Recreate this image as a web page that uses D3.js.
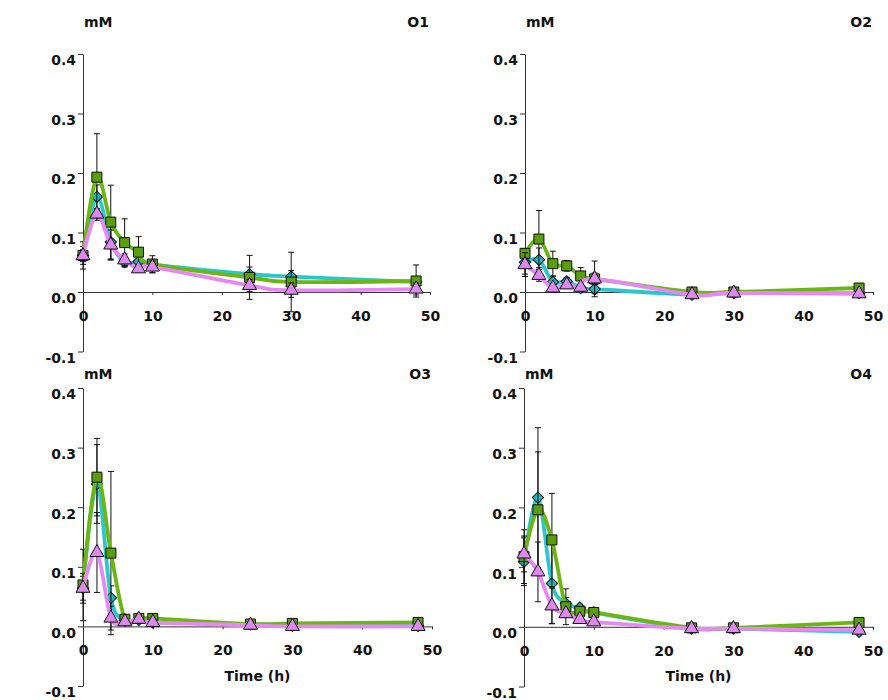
<!DOCTYPE html>
<html>
<head>
<meta charset="utf-8">
<script src="https://cdn.jsdelivr.net/npm/d3@7"></script>
<style>
  body { margin: 0; background: #fff; }
  svg text { font-family: "DejaVu Sans", sans-serif; font-weight: bold; font-size: 14px; fill: #111; }
</style>
</head>
<body>
<svg id="chart" width="888" height="700"></svg>
<script>
// time points (h)
var times = [0, 2, 4, 6, 8, 10, 24, 30, 48];
var xTicks = [0, 10, 20, 30, 40, 50];
var yTicks = [-0.1, 0.0, 0.1, 0.2, 0.3, 0.4];
var panelNames = ["O1", "O2", "O3", "O4"];

// O1
var o1Cyan   = [0.0615, 0.160, 0.084, 0.050, 0.051, 0.046, 0.030, 0.026, 0.017];
var o1CyanErr = [0.015, 0.020, 0.030, 0.008, 0.010, 0.008, 0.012, 0.010, 0.004];
var o1Green  = [0.0615, 0.193, 0.1175, 0.083, 0.067, 0.047, 0.0246, 0.0168, 0.0185];
var o1GreenErr = [0.023, 0.073, 0.062, 0.040, 0.026, 0.014, 0.037, 0.050, 0.027];
var o1Violet = [0.061, 0.131, 0.079, 0.054, 0.039, 0.042, 0.011, 0.003, 0.005];
var o1VioletErr = [0.010, 0.008, 0.025, 0.010, 0.005, 0.010, 0.010, 0.012, 0.010];

// O2
var o2Cyan   = [0.050, 0.054, 0.017, 0.018, 0.0067, 0.005, -0.0045, -0.002, -0.002];
var o2CyanErr = [0.020, 0.020, 0.010, 0.006, 0.004, 0.008, 0.002, 0.002, 0.002];
var o2Green  = [0.065, 0.089, 0.0476, 0.044, 0.027, 0.022, 0.0, 0.0, 0.0067];
var o2GreenErr = [0.008, 0.048, 0.021, 0.009, 0.014, 0.010, 0.002, 0.003, 0.003];
var o2Violet = [0.046, 0.028, 0.0067, 0.012, 0.008, 0.022, -0.0045, -0.0017, -0.003];
var o2VioletErr = [0.020, 0.010, 0.005, 0.005, 0.003, 0.030, 0.002, 0.002, 0.002];

// O3
var o3Cyan   = [0.064, 0.239, 0.048, 0.0095, 0.011, 0.0067, 0.004, 0.001, 0.001];
var o3CyanErr = [0.020, 0.066, 0.020, 0.003, 0.004, 0.002, 0.002, 0.001, 0.001];
var o3Green  = [0.0695, 0.2504, 0.123, 0.012, 0.0134, 0.0134, 0.004, 0.005, 0.0067];
var o3GreenErr = [0.060, 0.065, 0.137, 0.004, 0.004, 0.003, 0.002, 0.002, 0.002];
var o3Violet = [0.064, 0.124, 0.014, 0.0078, 0.012, 0.0067, 0.002, 0.0, 0.0];
var o3VioletErr = [0.025, 0.067, 0.020, 0.003, 0.003, 0.002, 0.001, 0.001, 0.001];

// O4
var o4Cyan   = [0.109, 0.2165, 0.0727, 0.039, 0.032, 0.024, -0.003, -0.003, -0.0084];
var o4CyanErr = [0.040, 0.117, 0.067, 0.010, 0.006, 0.005, 0.002, 0.002, 0.002];
var o4Green  = [0.1175, 0.196, 0.1455, 0.0336, 0.026, 0.024, -0.0017, -0.0017, 0.0073];
var o4GreenErr = [0.045, 0.097, 0.078, 0.030, 0.008, 0.006, 0.002, 0.002, 0.003];
var o4Violet = [0.122, 0.092, 0.035, 0.022, 0.0123, 0.0084, -0.003, -0.003, -0.0056];
var o4VioletErr = [0.030, 0.050, 0.030, 0.006, 0.004, 0.003, 0.002, 0.002, 0.002];

var panelData = [
  [[o1Cyan, o1CyanErr], [o1Green, o1GreenErr], [o1Violet, o1VioletErr]],
  [[o2Cyan, o2CyanErr], [o2Green, o2GreenErr], [o2Violet, o2VioletErr]],
  [[o3Cyan, o3CyanErr], [o3Green, o3GreenErr], [o3Violet, o3VioletErr]],
  [[o4Cyan, o4CyanErr], [o4Green, o4GreenErr], [o4Violet, o4VioletErr]]
];

// series styles: cyan diamond (rotated square), green square, violet triangle
var styles = [
  {line: "#2cc6cf", fill: "#1fb8c2", symbol: d3.symbolSquare, size: 64, rot: 45},
  {line: "#6cb614", fill: "#5a9e0c", symbol: d3.symbolSquare, size: 100, rot: 0},
  {line: "#e788f4", fill: "#dc88ee", symbol: d3.symbolTriangle, size: 85, rot: 0}
];

// panel boxes (axis x at 0 and 50, y at 0.4 and -0.1)
var boxes = [
  {left: 83, right: 430, top: 54, bottom: 351.5, labelY: 27},
  {left: 525, right: 873, top: 54, bottom: 351.5, labelY: 27},
  {left: 83, right: 432, top: 388, bottom: 686, labelY: 379},
  {left: 524, right: 873, top: 388, bottom: 686.5, labelY: 379}
];

var fmt = d3.format(".1f");
var svg = d3.select("#chart");

boxes.forEach(function(b, i) {
  var x = d3.scaleLinear().domain([0, 50]).range([b.left, b.right]);
  var y = d3.scaleLinear().domain([-0.1, 0.4]).range([b.bottom, b.top]);
  var g = svg.append("g");

  // y axis
  var yAx = g.append("g")
      .attr("transform", "translate(" + b.left + ",0)")
      .call(d3.axisLeft(y).tickValues(yTicks).tickSize(5).tickSizeOuter(0).tickPadding(2)
        .tickFormat(function(d) { return fmt(d).replace("\u2212", "-"); }));
  yAx.selectAll("text").attr("dy", "0.78em").attr("font-size", null).attr("font-family", null);

  // x axis at y = 0
  var xAx = g.append("g")
      .attr("transform", "translate(0," + y(0) + ")")
      .call(d3.axisBottom(x).tickValues(xTicks).tickSize(3).tickSizeOuter(0).tickPadding(16));
  xAx.selectAll("text").attr("font-size", null).attr("font-family", null);

  g.selectAll(".domain, .tick line").attr("stroke", "#333").attr("stroke-width", 1);

  // labels
  g.append("text").attr("x", b.left + 1).attr("y", b.labelY).text("mM");
  g.append("text").attr("x", b.right - 1).attr("y", b.labelY)
    .attr("text-anchor", "end").text(panelNames[i]);
  if (i >= 2) {
    g.append("text").attr("x", (b.left + b.right) / 2).attr("y", 681)
      .attr("text-anchor", "middle").text("Time (h)");
  }

  var line = d3.line()
      .x(function(d, k) { return x(times[k]); })
      .y(function(d) { return y(d); })
      .curve(d3.curveCatmullRom.alpha(0));

  panelData[i].forEach(function(s, j) {
    var vals = s[0], errs = s[1], st = styles[j];
    var sg = g.append("g");

    // error bars
    var eb = sg.selectAll(".err").data(vals).enter().append("g");
    eb.append("line")
      .attr("x1", function(d, k) { return x(times[k]); })
      .attr("x2", function(d, k) { return x(times[k]); })
      .attr("y1", function(d, k) { return y(d - errs[k]); })
      .attr("y2", function(d, k) { return y(d + errs[k]); })
      .attr("stroke", "#111").attr("stroke-width", 1);
    [-1, 1].forEach(function(sign) {
      eb.append("line")
        .attr("x1", function(d, k) { return x(times[k]) - 3; })
        .attr("x2", function(d, k) { return x(times[k]) + 3; })
        .attr("y1", function(d, k) { return y(d + sign * errs[k]); })
        .attr("y2", function(d, k) { return y(d + sign * errs[k]); })
        .attr("stroke", "#111").attr("stroke-width", 1);
    });

    sg.append("path").datum(vals)
      .attr("d", line)
      .attr("fill", "none")
      .attr("stroke", st.line)
      .attr("stroke-width", 3.8);

    sg.selectAll(".pt").data(vals).enter().append("path")
      .attr("transform", function(d, k) {
        return "translate(" + x(times[k]) + "," + y(d) + ") rotate(" + st.rot + ")";
      })
      .attr("d", d3.symbol().type(st.symbol).size(st.size))
      .attr("fill", st.fill)
      .attr("stroke", "#111")
      .attr("stroke-width", 1);
  });
});
</script>
</body>
</html>
